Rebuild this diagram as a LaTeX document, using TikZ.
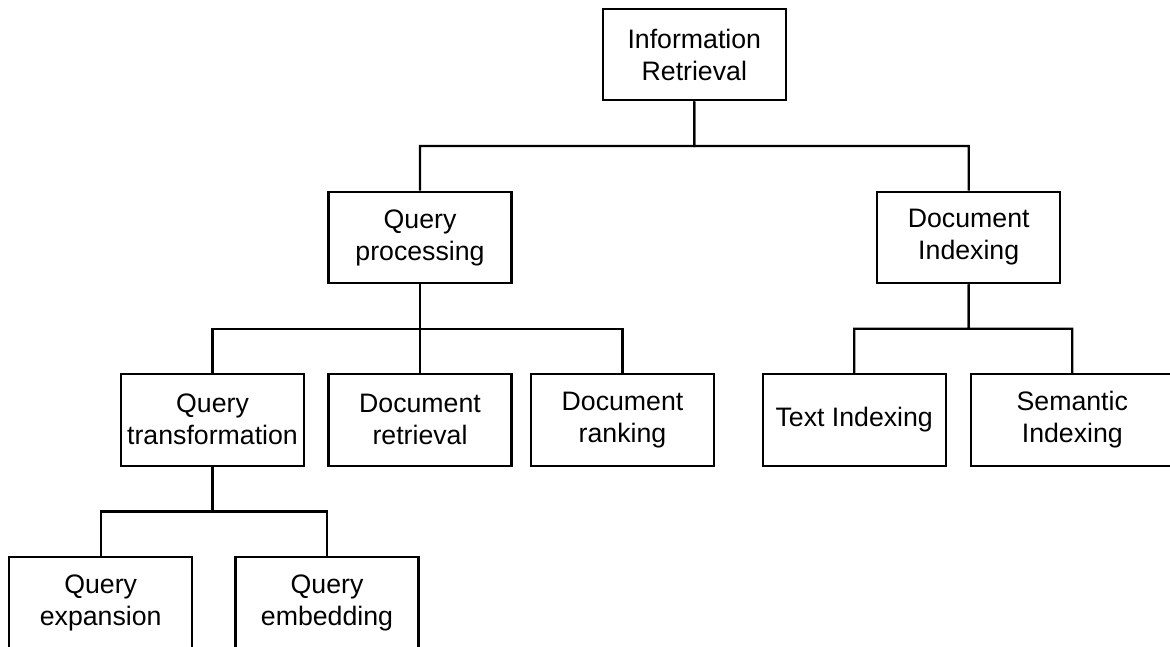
\documentclass[tikz,border=0pt]{standalone}
\usepackage{fontspec}
\setmainfont{Liberation Sans}
\usetikzlibrary{calc}
\begin{document}
\begin{tikzpicture}[x=1pt,y=-1pt,
  box/.style={draw=black, line width=2.2pt, fill=white, align=center,
    minimum width=183pt, minimum height=91.6pt, inner sep=0pt,
    font=\fontsize{26.7}{32}\selectfont},
  wire/.style={draw=black, line width=2.2pt},
  elbow/.style={to path={(\tikztostart) -- ($(\tikztostart)!0.5!(\tikztostart |- \tikztotarget)$) -| (\tikztotarget)}}]
\useasboundingbox (0,0) rectangle (1170,646);
\clip (0,0) rectangle (1170,646);

% levels of the tree
\node[box] (root)   at (694.3,54.5) {Information\\Retrieval};
\node[box] (qproc)  at (420,237.5)  {Query\\processing};
\node[box] (dindex) at (968.7,237.5) {Document\\Indexing};
\node[box] (qtrans) at (212.5,419.8) {Query\\transformation};
\node[box] (dretr)  at (420,419.8)  {Document\\retrieval};
\node[box] (drank)  at (622.5,419.8) {Document\\ranking};
\node[box] (tindex) at (854.2,419.8) {Text Indexing};
\node[box, minimum width=203pt] (sindex) at (1072.3,419.8) {Semantic\\Indexing};
\node[box] (qexp)   at (100.7,603.1) {Query\\expansion};
\node[box] (qemb)   at (327,603.1)  {Query\\embedding};

% orthogonal connectors
\draw[wire] (root.south)   to[elbow] (qproc.north);
\draw[wire] (root.south)   to[elbow] (dindex.north);
\draw[wire] (qproc.south)  to[elbow] (qtrans.north);
\draw[wire] (qproc.south)  to[elbow] (dretr.north);
\draw[wire] (qproc.south)  to[elbow] (drank.north);
\draw[wire] (dindex.south) to[elbow] (tindex.north);
\draw[wire] (dindex.south) to[elbow] (sindex.north);
\draw[wire] (qtrans.south) to[elbow] (qexp.north);
\draw[wire] (qtrans.south) to[elbow] (qemb.north);
\end{tikzpicture}
\end{document}
